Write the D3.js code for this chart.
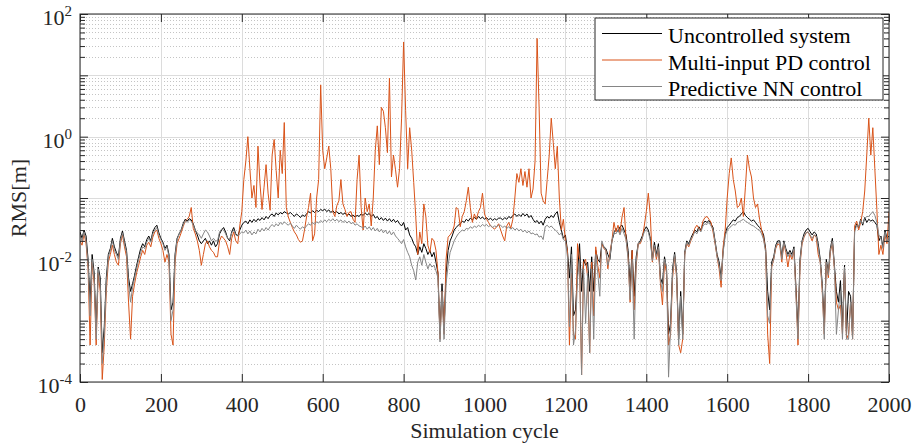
<!DOCTYPE html>
<html>
<head>
<meta charset="utf-8">
<script src="https://cdn.jsdelivr.net/npm/d3@7"></script>
<style>
  body { margin: 0; background: #fff; }
  svg { display: block; font-family: 'Liberation Serif', 'Times New Roman', serif; }
  svg text { font-family: 'Liberation Serif', 'Times New Roman', serif; }
</style>
</head>
<body>
<svg id="chart" width="919" height="448"></svg>
<script>
// one sample every 5 simulation cycles, 0..2000
const CYCLE_STEP = 5;
const xTicks = [0, 200, 400, 600, 800, 1000, 1200, 1400, 1600, 1800, 2000];
const yLabelExponents = [-4, -2, 0, 2];

const seriesNames = ['Uncontrolled system', 'Multi-input PD control', 'Predictive NN control'];

const uncontrolled = [
  // 0-335
  0.028, 0.022, 0.03, 0.024, 0.01, 0.002, 0.012, 0.006, 0.0007, 0.0075,
  0.005, 0.0003, 0.0008, 0.005, 0.012, 0.015, 0.022, 0.016, 0.013, 0.011,
  0.022, 0.029, 0.02, 0.014, 0.005, 0.003, 0.004, 0.0055, 0.008, 0.011,
  0.015, 0.018, 0.016, 0.021, 0.024, 0.02, 0.028, 0.033, 0.036, 0.027,
  0.022, 0.019, 0.015, 0.017, 0.012, 0.0015, 0.002, 0.012, 0.022, 0.026,
  0.03, 0.038, 0.045, 0.042, 0.046, 0.044, 0.038, 0.03, 0.025, 0.02,
  0.018, 0.02, 0.022, 0.018, 0.02, 0.017, 0.02, 0.016,
  // 340-690
  0.018, 0.026, 0.03, 0.033, 0.028, 0.022, 0.02, 0.028, 0.033, 0.026,
  0.024, 0.03, 0.036, 0.04, 0.042, 0.038, 0.044, 0.04, 0.045, 0.041,
  0.046, 0.043, 0.048, 0.044, 0.05, 0.046, 0.052, 0.055, 0.05, 0.057,
  0.053, 0.058, 0.055, 0.06, 0.057, 0.055, 0.058, 0.054, 0.05, 0.055,
  0.052, 0.048, 0.053, 0.05, 0.055, 0.06, 0.057, 0.062, 0.058, 0.063,
  0.06, 0.065, 0.062, 0.066, 0.06, 0.064, 0.058, 0.062, 0.057, 0.06,
  0.055, 0.058, 0.054, 0.057, 0.052, 0.055, 0.05, 0.053, 0.049, 0.052,
  0.05,
  // 695-1035
  0.055, 0.052, 0.057, 0.053, 0.056, 0.05, 0.054, 0.047, 0.05, 0.044,
  0.048, 0.043, 0.047, 0.042, 0.046, 0.041, 0.045, 0.04, 0.043, 0.038,
  0.035, 0.04, 0.03, 0.033, 0.025, 0.022, 0.018, 0.016, 0.012, 0.016,
  0.013, 0.018, 0.015, 0.012, 0.014, 0.011, 0.013, 0.009, 0.006, 0.0006,
  0.004, 0.0007, 0.006, 0.014, 0.02, 0.024, 0.03, 0.033, 0.036, 0.038,
  0.042, 0.04, 0.045, 0.042, 0.047, 0.044, 0.048, 0.045, 0.05, 0.046,
  0.049, 0.045, 0.048, 0.044, 0.047, 0.043, 0.046, 0.044, 0.047,
  // 1040-1380
  0.047, 0.044, 0.048, 0.045, 0.05, 0.047, 0.052, 0.055, 0.05, 0.054,
  0.05, 0.056, 0.051, 0.055, 0.048, 0.052, 0.045, 0.04, 0.043, 0.038,
  0.042, 0.036, 0.045, 0.05, 0.047, 0.052, 0.048, 0.055, 0.06, 0.04,
  0.03, 0.022, 0.025, 0.014, 0.005, 0.016, 0.0012, 0.0015, 0.006, 0.018,
  0.003, 0.01, 0.008, 0.009, 0.003, 0.011, 0.003, 0.014, 0.01, 0.009,
  0.018, 0.016, 0.015, 0.012, 0.01, 0.02, 0.026, 0.032, 0.028, 0.034,
  0.036, 0.03, 0.025, 0.014, 0.0036, 0.014, 0.0025, 0.011, 0.018,
  // 1385-1725
  0.02, 0.024, 0.03, 0.034, 0.03, 0.022, 0.01, 0.019, 0.012, 0.018,
  0.005, 0.004, 0.011, 0.007, 0.0006, 0.0009, 0.007, 0.013, 0.006, 0.0005,
  0.003, 0.0006, 0.013, 0.02, 0.018, 0.022, 0.026, 0.03, 0.028, 0.034,
  0.03, 0.038, 0.042, 0.04, 0.043, 0.038, 0.033, 0.02, 0.012, 0.009,
  0.005, 0.014, 0.026, 0.033, 0.036, 0.04, 0.044, 0.042, 0.048, 0.05,
  0.055, 0.06, 0.052, 0.048, 0.045, 0.042, 0.044, 0.04, 0.036, 0.033,
  0.03, 0.025, 0.015, 0.003, 0.0015, 0.009, 0.011, 0.017, 0.02,
  // 1730-2000
  0.02, 0.011, 0.02, 0.015, 0.012, 0.014, 0.012, 0.016, 0.0035, 0.0007,
  0.01, 0.02, 0.026, 0.03, 0.032, 0.028, 0.025, 0.028, 0.026, 0.018,
  0.01, 0.004, 0.0009, 0.01, 0.006, 0.015, 0.022, 0.008, 0.003, 0.002,
  0.0045, 0.0008, 0.008, 0.0006, 0.003, 0.0025, 0.0006, 0.03, 0.038, 0.033,
  0.045, 0.036, 0.048, 0.04, 0.045, 0.042, 0.044, 0.04, 0.036, 0.02,
  0.024, 0.016, 0.03, 0.022, 0.024
];

const pdControl = [
  // 0-335
  0.02, 0.017, 0.026, 0.018, 0.007, 0.0004, 0.009, 0.004, 0.0004, 0.006,
  0.003, 0.00011, 0.0004, 0.003, 0.009, 0.012, 0.017, 0.012, 0.009, 0.008,
  0.018, 0.025, 0.016, 0.011, 0.002, 0.0005, 0.0025, 0.004, 0.006, 0.008,
  0.011, 0.014, 0.012, 0.017, 0.019, 0.016, 0.023, 0.028, 0.03, 0.022,
  0.018, 0.014, 0.009, 0.012, 0.009, 0.0006, 0.0004, 0.009, 0.018, 0.022,
  0.027, 0.034, 0.042, 0.045, 0.05, 0.07, 0.032, 0.026, 0.02, 0.014,
  0.008, 0.012, 0.018, 0.02, 0.016, 0.014, 0.013, 0.011,
  // 340-690
  0.011, 0.02, 0.024, 0.022, 0.02, 0.016, 0.012, 0.022, 0.028, 0.02,
  0.018, 0.035, 0.06, 0.2, 0.4, 1.0, 0.3, 0.1, 0.16, 0.07,
  0.7, 0.17, 0.065, 0.15, 0.35, 0.12, 0.063, 0.5, 0.9, 0.28,
  0.1, 0.6, 0.25, 1.7, 0.07, 0.049, 0.04, 0.033, 0.028, 0.025,
  0.021, 0.019, 0.02, 0.03, 0.049, 0.07, 0.12, 0.02, 0.026, 0.1,
  0.2, 7.0, 0.6, 0.3, 0.45, 0.7, 0.3, 0.06, 0.05, 0.075,
  0.09, 0.2, 0.08, 0.065, 0.05, 0.058, 0.06, 0.045, 0.04, 0.2,
  0.5,
  // 695-1035
  0.07, 0.03, 0.1, 0.06, 0.08, 0.035, 0.1, 0.6, 1.5, 0.35,
  3.0, 2.6, 1.4, 0.55, 9.0, 0.22, 0.5, 0.29, 0.15, 0.3,
  2.0, 35, 2.7, 0.3, 1.4, 0.6, 0.18, 0.05, 0.012, 0.028,
  0.018, 0.08, 0.05, 0.017, 0.013, 0.022, 0.02, 0.014, 0.006, 0.0005,
  0.003, 0.0006, 0.01, 0.023, 0.025, 0.028, 0.035, 0.07, 0.065, 0.034,
  0.05, 0.06, 0.09, 0.15, 0.07, 0.04, 0.055, 0.045, 0.06, 0.07,
  0.12, 0.055, 0.045, 0.04, 0.035, 0.033, 0.031, 0.034, 0.038,
  // 1040-1380
  0.03, 0.024, 0.02, 0.035, 0.04, 0.032, 0.045, 0.1, 0.25, 0.18,
  0.3, 0.16, 0.27, 0.15, 0.3, 0.1, 0.14, 0.4, 40, 3,
  0.12, 0.09, 0.08, 0.2, 0.5, 2.0, 0.8, 0.3, 0.7, 0.1,
  0.03, 0.045, 0.02, 0.014, 0.0004, 0.006, 0.0006, 0.0005, 0.018, 0.01,
  0.00013, 0.009, 0.01, 0.005, 0.0003, 0.009, 0.0012, 0.016, 0.008, 0.005,
  0.018, 0.015, 0.014, 0.007, 0.013, 0.02, 0.04, 0.028, 0.036, 0.027,
  0.049, 0.07, 0.021, 0.011, 0.002, 0.014, 0.0015, 0.008, 0.018,
  // 1385-1725
  0.018, 0.022, 0.035, 0.06, 0.12, 0.05, 0.009, 0.016, 0.01, 0.015,
  0.004, 0.0018, 0.009, 0.006, 0.0004, 0.0006, 0.005, 0.011, 0.005, 0.0004,
  0.0003, 0.0005, 0.012, 0.018, 0.016, 0.02, 0.024, 0.032, 0.036, 0.032,
  0.029, 0.042, 0.048, 0.05, 0.045, 0.04, 0.028, 0.018, 0.011, 0.007,
  0.0035, 0.016, 0.03, 0.1, 0.25, 0.45, 0.2, 0.13, 0.07, 0.075,
  0.1, 0.05, 0.15, 0.5, 0.3, 0.22, 0.1, 0.07, 0.08, 0.045,
  0.03, 0.022, 0.014, 0.0006, 0.0002, 0.0075, 0.01, 0.015, 0.018,
  // 1730-2000
  0.017, 0.009, 0.018, 0.013, 0.0075, 0.012, 0.01, 0.014, 0.003, 0.0004,
  0.008, 0.018, 0.023, 0.027, 0.028, 0.024, 0.02, 0.025, 0.023, 0.012,
  0.009, 0.003, 0.0006, 0.009, 0.005, 0.013, 0.019, 0.007, 0.002, 0.0015,
  0.0018, 0.0006, 0.007, 0.0005, 0.0006, 0.002, 0.0005, 0.035, 0.042, 0.03,
  0.04, 0.06, 0.13, 0.5, 2.0, 0.5, 1.4, 0.3, 0.065, 0.012,
  0.017, 0.012, 0.025, 0.018, 0.06
];

const nnControl = [
  // 0-335
  0.025, 0.02, 0.028, 0.02, 0.008, 0.0012, 0.01, 0.005, 0.0005, 0.007,
  0.004, 0.0002, 0.0006, 0.004, 0.011, 0.014, 0.02, 0.014, 0.012, 0.01,
  0.02, 0.027, 0.018, 0.013, 0.004, 0.002, 0.0035, 0.005, 0.007, 0.01,
  0.013, 0.016, 0.015, 0.019, 0.022, 0.019, 0.026, 0.03, 0.033, 0.025,
  0.021, 0.018, 0.014, 0.016, 0.011, 0.001, 0.0015, 0.011, 0.021, 0.026,
  0.03, 0.036, 0.043, 0.04, 0.044, 0.042, 0.036, 0.03, 0.027, 0.025,
  0.022, 0.026, 0.03, 0.028, 0.024, 0.02, 0.022, 0.02,
  // 340-690
  0.02, 0.028, 0.031, 0.03, 0.026, 0.022, 0.021, 0.027, 0.03, 0.025,
  0.024, 0.026, 0.028, 0.027, 0.03, 0.026, 0.029, 0.025, 0.028, 0.026,
  0.031, 0.028, 0.032, 0.029, 0.033, 0.03, 0.034, 0.037, 0.034, 0.038,
  0.035, 0.04, 0.037, 0.041, 0.038, 0.036, 0.039, 0.035, 0.032, 0.036,
  0.033, 0.031, 0.034, 0.032, 0.035, 0.038, 0.036, 0.04, 0.037, 0.041,
  0.039, 0.043, 0.04, 0.044, 0.041, 0.045, 0.042, 0.046, 0.042, 0.045,
  0.041, 0.044, 0.04, 0.043, 0.039, 0.042, 0.038, 0.04, 0.036, 0.038,
  0.035,
  // 695-1035
  0.034, 0.032, 0.035, 0.031, 0.034, 0.03, 0.033, 0.029, 0.032, 0.028,
  0.031, 0.027, 0.03, 0.026, 0.029, 0.025, 0.028, 0.024, 0.022, 0.02,
  0.018, 0.021, 0.016, 0.013, 0.011, 0.008, 0.0065, 0.0046, 0.009, 0.011,
  0.008, 0.012, 0.009, 0.007, 0.0085, 0.0075, 0.008, 0.0065, 0.005, 0.00045,
  0.003, 0.0005, 0.004, 0.008, 0.013, 0.016, 0.02, 0.023, 0.026, 0.028,
  0.03, 0.029, 0.032, 0.031, 0.034, 0.032, 0.035, 0.033, 0.036, 0.034,
  0.037, 0.035, 0.037, 0.034, 0.036, 0.033, 0.035, 0.034, 0.036,
  // 1040-1380
  0.036, 0.033, 0.035, 0.032, 0.034, 0.031, 0.033, 0.03, 0.032, 0.029,
  0.031, 0.028, 0.03, 0.027, 0.029, 0.026, 0.027, 0.025, 0.026, 0.023,
  0.024, 0.021, 0.034, 0.036, 0.033, 0.035, 0.032, 0.03, 0.028, 0.025,
  0.027, 0.021, 0.02, 0.011, 0.0008, 0.012, 0.0004, 0.0007, 0.005, 0.01,
  0.00013, 0.007, 0.0009, 0.006, 0.0003, 0.007, 0.0005, 0.012, 0.006, 0.0025,
  0.02, 0.016, 0.014, 0.008, 0.011, 0.02, 0.028, 0.026, 0.03, 0.025,
  0.032, 0.026, 0.021, 0.01, 0.0022, 0.01, 0.0005, 0.009, 0.018,
  // 1385-1725
  0.019, 0.022, 0.028, 0.03, 0.028, 0.02, 0.0095, 0.017, 0.011, 0.016,
  0.0045, 0.003, 0.01, 0.0075, 0.00012, 0.0008, 0.006, 0.012, 0.0055, 0.0004,
  0.0025, 0.0005, 0.012, 0.019, 0.017, 0.021, 0.024, 0.028, 0.026, 0.031,
  0.028, 0.035, 0.038, 0.037, 0.04, 0.035, 0.031, 0.019, 0.011, 0.008,
  0.0045, 0.013, 0.024, 0.03, 0.032, 0.035, 0.037, 0.036, 0.04, 0.041,
  0.043, 0.045, 0.042, 0.04, 0.038, 0.036, 0.035, 0.033, 0.031, 0.03,
  0.026, 0.021, 0.013, 0.0012, 0.0009, 0.008, 0.01, 0.016, 0.019,
  // 1730-2000
  0.019, 0.01, 0.019, 0.014, 0.011, 0.013, 0.011, 0.015, 0.0025, 0.0005,
  0.009, 0.019, 0.024, 0.027, 0.028, 0.025, 0.022, 0.025, 0.024, 0.016,
  0.009, 0.0035, 0.0005, 0.009, 0.0055, 0.014, 0.02, 0.0075, 0.0006, 0.0015,
  0.003, 0.0005, 0.0075, 0.0005, 0.0005, 0.002, 0.0005, 0.028, 0.036, 0.034,
  0.043, 0.038, 0.046, 0.05, 0.05, 0.055, 0.06, 0.052, 0.04, 0.025,
  0.022, 0.015, 0.028, 0.02, 0.022
];

const SERIES_COLORS = ['#000000', '#D95319', '#858585'];
const AXIS_COLOR = '#262626';
const FONT = "'Liberation Serif', 'Times New Roman', serif";

const W = 919;
const H = 448;
const M = { top: 14, right: 30, bottom: 66, left: 80 };

const svg = d3.select('#chart');

const x = d3.scaleLinear().domain([0, 2000]).range([M.left, W - M.right]);
const y = d3.scaleLog().domain([1e-4, 1e2]).range([H - M.bottom, M.top]);

const isDecade = (v) => Math.abs(Math.log10(v) - Math.round(Math.log10(v))) < 1e-9;
const allYTicks = y.ticks();
const majorY = allYTicks.filter(isDecade);
const minorY = allYTicks.filter((v) => !isDecade(v));

// Grid
const grid = svg.append('g').attr('class', 'grid');

grid.selectAll('.minor').data(minorY).enter().append('line')
  .attr('x1', x(0)).attr('x2', x(2000))
  .attr('y1', (d) => Math.round(y(d)) + 0.5).attr('y2', (d) => Math.round(y(d)) + 0.5)
  .attr('stroke', '#c4c4c4').attr('stroke-width', 1).attr('stroke-dasharray', '1,2');

grid.selectAll('.major').data(majorY).enter().append('line')
  .attr('x1', x(0)).attr('x2', x(2000))
  .attr('y1', (d) => Math.round(y(d)) + 0.5).attr('y2', (d) => Math.round(y(d)) + 0.5)
  .attr('stroke', '#dcdcdc').attr('stroke-width', 1);

grid.selectAll('.vert').data(xTicks).enter().append('line')
  .attr('x1', (d) => Math.round(x(d)) + 0.5).attr('x2', (d) => Math.round(x(d)) + 0.5)
  .attr('y1', y(1e2)).attr('y2', y(1e-4))
  .attr('stroke', '#dcdcdc').attr('stroke-width', 1);

// Lines (drawn in legend order, NN on top)
svg.append('clipPath').attr('id', 'plot-clip')
  .append('rect')
  .attr('x', M.left).attr('y', M.top)
  .attr('width', W - M.left - M.right).attr('height', H - M.top - M.bottom);

const line = d3.line()
  .x((d, i) => x(i * CYCLE_STEP))
  .y((d) => y(d));

const seriesData = [uncontrolled, pdControl, nnControl];

svg.append('g').attr('clip-path', 'url(#plot-clip)')
  .selectAll('path').data(seriesData).enter().append('path')
  .attr('d', line)
  .attr('fill', 'none')
  .attr('stroke', (d, i) => SERIES_COLORS[i])
  .attr('stroke-width', 1)
  .attr('stroke-linejoin', 'round');

// Axes
const styleAxis = (g) => {
  g.attr('font-family', FONT).attr('font-size', 22);
  g.select('.domain').remove();
  g.selectAll('line').attr('stroke', AXIS_COLOR);
  g.selectAll('text').attr('fill', AXIS_COLOR);
};

svg.append('g')
  .attr('transform', `translate(0,${y(1e-4)})`)
  .call(d3.axisBottom(x).tickValues(xTicks).tickSize(-8).tickSizeOuter(0).tickPadding(14)
    .tickFormat(d3.format('d')))
  .call(styleAxis);

svg.append('g')
  .attr('transform', `translate(0,${y(1e2)})`)
  .call(d3.axisTop(x).tickValues(xTicks).tickSize(-8).tickSizeOuter(0).tickFormat(''))
  .call(styleAxis);

const yLabelValues = yLabelExponents.map((e) => Math.pow(10, e));

const leftAxis = svg.append('g')
  .attr('transform', `translate(${x(0)},0)`)
  .call(d3.axisLeft(y).tickValues(yLabelValues).tickSize(-8).tickSizeOuter(0).tickPadding(8).tickFormat(''))
  .call(styleAxis);

leftAxis.selectAll('.tick text')
  .attr('dy', '0.49em')
  .each(function (d) {
    const t = d3.select(this);
    t.append('tspan').text('10');
    t.append('tspan').attr('dy', -9).attr('font-size', 15).text(Math.round(Math.log10(d)));
  });

// remaining decade ticks and minor ticks, both sides
const sideTicks = [
  { vals: majorY.filter((v) => !yLabelValues.includes(v)), len: 8 },
  { vals: minorY, len: 5 },
];
sideTicks.forEach((s) => {
  svg.append('g')
    .attr('transform', `translate(${x(0)},0)`)
    .call(d3.axisLeft(y).tickValues(s.vals).tickSize(-s.len).tickSizeOuter(0).tickFormat(''))
    .call(styleAxis);
});
[{ vals: majorY, len: 8 }, { vals: minorY, len: 5 }].forEach((s) => {
  svg.append('g')
    .attr('transform', `translate(${x(2000)},0)`)
    .call(d3.axisRight(y).tickValues(s.vals).tickSize(-s.len).tickSizeOuter(0).tickFormat(''))
    .call(styleAxis);
});

// Frame
svg.append('rect')
  .attr('x', x(0)).attr('y', y(1e2))
  .attr('width', x(2000) - x(0)).attr('height', y(1e-4) - y(1e2))
  .attr('fill', 'none').attr('stroke', AXIS_COLOR).attr('stroke-width', 1);

// Axis titles
svg.append('text')
  .attr('x', (x(0) + x(2000)) / 2).attr('y', 438)
  .attr('text-anchor', 'middle').attr('font-size', 22).attr('fill', AXIS_COLOR)
  .attr('font-family', FONT)
  .text('Simulation cycle');

svg.append('text')
  .attr('transform', `translate(26,${(y(1e2) + y(1e-4)) / 2}) rotate(-90)`)
  .attr('text-anchor', 'middle').attr('font-size', 22).attr('fill', AXIS_COLOR)
  .attr('font-family', FONT)
  .text('RMS[m]');

// Legend
const legend = svg.append('g').attr('transform', 'translate(595,18)');
legend.append('rect')
  .attr('width', 288).attr('height', 82)
  .attr('fill', '#fff').attr('stroke', AXIS_COLOR).attr('stroke-width', 1);

const rows = legend.selectAll('.row').data(seriesNames).enter().append('g')
  .attr('transform', (d, i) => `translate(0,${15.5 + i * 26.5})`);
rows.append('line')
  .attr('x1', 7).attr('x2', 67)
  .attr('stroke', (d, i) => SERIES_COLORS[i]).attr('stroke-width', 1);
rows.append('text')
  .attr('x', 73).attr('y', 9.5)
  .attr('font-size', 22).attr('fill', '#000')
  .attr('font-family', FONT)
  .text((d) => d);
</script>
</body>
</html>
